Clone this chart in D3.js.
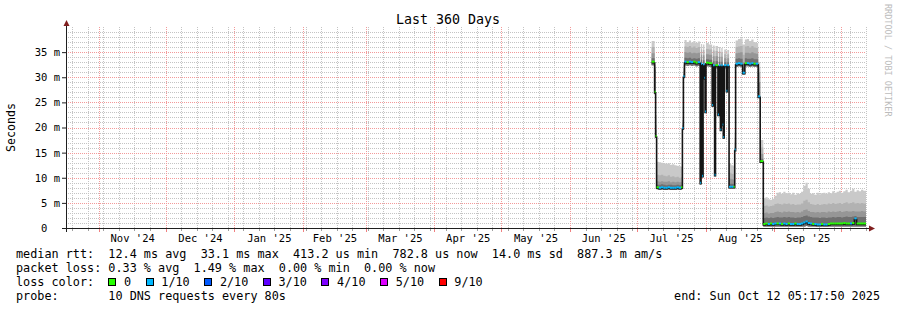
<!DOCTYPE html>
<html>
<head>
<meta charset="utf-8">
<script src="https://cdn.jsdelivr.net/npm/d3@7"></script>
<style>
  body { margin: 0; background: #fff; }
  svg { display: block; font-family: "DejaVu Sans Mono", monospace; }
  text { white-space: pre; }
</style>
</head>
<body>
<svg id="chart" width="897" height="310"></svg>
<script>
const title = "Last 360 Days";
const yLabel = "Seconds";
const endTime = new Date(Date.UTC(2025, 9, 12, 5, 17, 50));
const spanDays = 360;
const yMax = 40;
const yTicks = [0, 5, 10, 15, 20, 25, 30, 35];

// sample times, in days after 2025-07-07
const firstDay = Date.UTC(2025, 6, 7);
const day = [0.75, 2.1, 2.55, 3, 4, 5, 6, 7, 8, 9, 10, 11, 12, 13, 14, 14.6, 15.05,
  15.55, 16.5, 17.5, 18.5, 19.5, 20.5, 21.5,
  22.6, 23.0, 23.5, 23.9, 24.5, 24.8, 25.2, 26.5, 28.0, 28.4, 29.1, 29.5, 30.6, 31.0,
  31.7, 32.1, 32.7, 33.0, 33.4, 34.4, 34.8, 35.6, 36.6, 37.6, 38.15,
  38.55, 39.6, 40.6, 41.7, 42.7, 43.6, 44.6, 45.6, 46.6, 47.6, 48.7, 49.6,
  51, 52, 53, 54, 55, 56, 57, 58, 59, 60, 61, 62, 63, 64, 65, 66, 67, 68, 69, 70,
  71, 72, 73, 74, 75, 76, 77, 78, 79, 80, 81, 82, 83, 84, 85, 86, 87, 88, 89, 90,
  91, 92, 93, 94, 95, 96];

// median rtt, ms
const median = [33.0, 27.0, 18.2, 8.0, 7.9, 8.0, 7.9, 7.9, 8.0, 7.9, 7.9, 7.9, 8.0, 7.9, 8.0, 19.8, 30.1,
  33.0, 32.9, 33.0, 32.9, 33.0, 32.8, 32.9,
  8.9, 32.6, 10.3, 32.5, 29.8, 23.1, 32.8, 32.7, 24.4, 32.3, 10.5, 32.3, 22.5, 32.3,
  19.5, 32.3, 20.5, 18.0, 32.3, 27.2, 32.3, 8.1, 8.1, 8.1, 15.5,
  32.6, 32.7, 32.6, 30.8, 32.7, 32.7, 32.6, 32.7, 32.6, 32.6, 26.1, 13.2,
  0.7, 0.8, 0.7, 0.8, 0.7, 0.8, 0.8, 0.8, 0.7, 0.8, 0.7, 0.8, 0.7, 0.7, 0.8, 0.7, 0.7, 0.8, 1.0, 1.2,
  0.9, 0.8, 0.7, 0.7, 0.6, 0.6, 0.7, 0.6, 0.6, 0.7, 0.8, 0.8, 0.8, 0.8, 0.8, 0.8, 0.9, 0.8, 0.8, 0.8,
  0.9, 1.8, 0.8, 0.8, 0.8, 0.8];

// smoke: fastest ping and the tops of the four grey bands, ms
const pingLo = [32.4, 26.6, 18.0, 7.7, 7.6, 7.7, 7.6, 7.6, 7.7, 7.6, 7.6, 7.6, 7.7, 7.6, 7.7, 19.5, 29.8,
  32.4, 32.3, 32.4, 32.3, 32.4, 32.2, 32.3,
  8.7, 32.0, 10.1, 31.9, 29.5, 22.9, 32.2, 32.1, 24.2, 31.8, 10.3, 31.8, 22.3, 31.8,
  19.3, 31.8, 20.3, 17.8, 31.8, 27.0, 31.8, 7.9, 7.9, 7.9, 15.3,
  32.1, 32.2, 32.1, 30.6, 32.2, 32.2, 32.1, 32.2, 32.1, 32.1, 25.9, 13.0,
  0.3, 0.3, 0.3, 0.3, 0.3, 0.3, 0.3, 0.3, 0.3, 0.3, 0.3, 0.3, 0.3, 0.3, 0.3, 0.3, 0.3, 0.3, 0.3, 0.4,
  0.3, 0.3, 0.3, 0.3, 0.3, 0.3, 0.3, 0.3, 0.3, 0.3, 0.3, 0.3, 0.3, 0.3, 0.3, 0.3, 0.3, 0.3, 0.3, 0.3,
  0.3, 0.3, 0.3, 0.3, 0.3, 0.3];
const band1 = [33.8, 31.5, 18.6, 8.6, 8.6, 8.7, 8.6, 8.5, 8.6, 8.6, 8.5, 8.5, 8.6, 8.5, 8.5, 20.0, 30.6,
  33.9, 33.8, 33.9, 33.7, 33.8, 33.7, 33.8,
  9.2, 33.5, 10.6, 33.4, 30.5, 24.0, 33.6, 33.5, 25.0, 33.2, 11.0, 33.2, 23.0, 33.1,
  20.0, 33.1, 21.0, 18.6, 33.0, 28.0, 33.0, 8.8, 8.8, 8.7, 16.0,
  33.7, 33.8, 33.7, 32.0, 33.8, 33.7, 33.7, 33.8, 33.6, 33.6, 29.0, 13.8,
  2.0, 2.1, 2.0, 2.1, 2.0, 2.1, 2.2, 2.1, 2.1, 2.2, 2.1, 2.2, 2.1, 2.1, 2.0, 2.1, 2.1, 2.2, 2.4, 2.5,
  2.3, 2.2, 2.1, 2.1, 2.1, 2.0, 2.1, 2.1, 2.0, 2.1, 2.1, 2.2, 2.1, 2.2, 2.2, 2.1, 2.2, 2.3, 2.2, 2.2,
  2.3, 2.4, 2.2, 2.2, 2.2, 2.2];
const band2 = [34.8, 32.0, 19.5, 9.3, 9.2, 9.3, 9.2, 9.2, 9.3, 9.1, 9.2, 9.1, 9.2, 9.1, 9.1, 20.5, 31.2,
  35.0, 34.9, 35.0, 34.8, 34.9, 34.8, 34.9,
  9.8, 34.5, 11.0, 34.4, 31.3, 25.0, 34.6, 34.5, 26.0, 34.2, 12.0, 34.2, 24.0, 34.1,
  21.0, 34.1, 22.0, 19.5, 33.8, 29.5, 33.8, 9.8, 9.7, 9.6, 17.0,
  34.8, 34.9, 35.0, 33.0, 34.9, 34.9, 34.8, 35.0, 34.8, 34.7, 31.0, 14.8,
  3.0, 3.1, 2.9, 3.0, 3.0, 3.2, 3.3, 3.2, 3.1, 3.3, 3.2, 3.3, 3.2, 3.2, 3.1, 3.2, 3.1, 3.3, 3.6, 3.7,
  3.4, 3.2, 3.2, 3.1, 3.2, 3.1, 3.2, 3.2, 3.1, 3.3, 3.2, 3.3, 3.2, 3.3, 3.4, 3.2, 3.3, 3.4, 3.3, 3.3,
  3.4, 3.3, 3.3, 3.3, 3.4, 3.3];
const band3 = [36.0, 32.5, 20.5, 10.6, 10.5, 10.6, 10.4, 10.3, 10.5, 10.2, 10.3, 10.1, 10.2, 10.0, 10.1, 21.0, 31.8,
  36.1, 36.0, 36.2, 35.9, 36.1, 35.8, 36.0,
  10.5, 35.5, 11.5, 35.4, 32.0, 26.5, 35.6, 35.5, 28.0, 35.3, 13.5, 35.2, 26.0, 35.1,
  23.0, 35.0, 24.0, 21.5, 34.6, 30.5, 34.6, 11.0, 10.8, 10.7, 18.0,
  36.0, 36.1, 36.2, 34.5, 36.1, 36.2, 35.9, 36.2, 35.9, 35.8, 32.0, 16.0,
  4.4, 4.5, 4.3, 4.4, 4.5, 4.8, 4.9, 4.8, 4.7, 4.9, 4.8, 4.9, 4.7, 4.8, 4.6, 4.7, 4.7, 4.9, 5.4, 5.6,
  5.1, 4.8, 4.7, 4.6, 4.8, 4.6, 4.7, 4.8, 4.7, 4.9, 4.8, 5.0, 4.8, 4.9, 5.0, 4.8, 5.0, 5.1, 4.9, 5.0,
  5.1, 4.9, 5.0, 4.9, 5.0, 4.9];
const pingHi = [37.2, 33.0, 22.5, 13.2, 13.1, 13.0, 12.9, 12.8, 12.9, 12.6, 12.7, 12.5, 12.4, 12.3, 12.2, 21.5, 32.5,
  37.4, 37.0, 37.3, 36.9, 37.2, 36.8, 37.1,
  11.5, 36.6, 12.0, 36.5, 33.0, 29.0, 36.8, 36.5, 31.0, 36.3, 16.0, 36.2, 29.0, 36.0,
  26.0, 35.8, 27.5, 24.7, 35.5, 32.5, 35.4, 12.8, 12.5, 12.3, 19.0,
  37.3, 37.6, 37.7, 36.5, 37.5, 37.6, 37.2, 37.5, 37.0, 36.8, 33.0, 17.5,
  5.9, 6.1, 5.7, 5.6, 5.8, 6.4, 7.0, 7.1, 6.8, 7.2, 6.9, 7.0, 6.7, 7.0, 6.6, 6.9, 6.8, 7.2, 8.4, 9.0,
  7.8, 6.8, 6.9, 6.6, 7.0, 6.7, 6.9, 7.0, 6.8, 7.1, 6.9, 7.3, 7.0, 7.2, 7.4, 7.0, 7.3, 7.6, 7.1, 7.4,
  7.8, 7.2, 7.5, 7.3, 7.6, 7.4];

// lost pings out of 10
const loss = [0, 0, 0, 0, 1, 1, 1, 1, 1, 1, 1, 1, 1, 1, 0, 1, 1,
  1, 0, 1, 1, 0, 0, 1,
  1, 1, 1, 1, 1, 1, 0, 0, 1, 1, 1, 0, 1, 1,
  1, 1, 1, 1, 1, 1, 1, 1, 1, 0, 1,
  1, 1, 1, 1, 0, 1, 1, 1, 0, 1, 1, 0,
  0, 0, 1, 0, 1, 1, 0, 1, 0, 1, 1, 0, 1, 1, 0, 1, 1, 1, 1, 1,
  1, 1, 0, 1, 1, 1, 0, 1, 1, 0, 0, 0, 0, 0, 0, 0, 0, 0, 0, 1,
  0, 1, 0, 0, 0, 0];

const lossColors = ["#26ff00", "#00b8ff", "#0059ff", "#5e00ff", "#7e00ff", "#dd00ff", "#ff0000"];
const lossLabels = ["0", "1/10", "2/10", "3/10", "4/10", "5/10", "9/10"];
const statLines = [
  "median rtt:  12.4 ms avg  33.1 ms max  413.2 us min  782.8 us now  14.0 ms sd  887.3 m am/s",
  "packet loss: 0.33 % avg  1.49 % max  0.00 % min  0.00 % now",
  "loss color:",
  "probe:       10 DNS requests every 80s"
];
const endText = "end: Sun Oct 12 05:17:50 2025";
const watermark = "RRDTOOL / TOBI OETIKER";

const svg = d3.select("#chart");
const startTime = new Date(endTime.getTime() - spanDays * 864e5);
const x = d3.scaleTime().domain([startTime, endTime]).range([66, 866]);
const y = d3.scaleLinear().domain([0, yMax]).range([228, 27]);
const plotTop = 27, plotBottom = 228;

const samples = day.map((d, i) => ({
  t: new Date(firstDay + d * 864e5),
  med: median[i], lo: pingLo[i], b1: band1[i], b2: band2[i], b3: band3[i], hi: pingHi[i],
  loss: loss[i]
}));
samples.forEach((s, i) => { s.t1 = i + 1 < samples.length ? samples[i + 1].t : endTime; });
const stepped = samples.concat([Object.assign({}, samples[samples.length - 1], { t: endTime })]);

// grid, under the data
const grid = svg.append("g").attr("stroke-dasharray", "1,1").attr("stroke-width", 1);
const hMinor = d3.range(1, yMax).filter(v => v % 5);
const hMajor = yTicks.filter(v => v > 0);
const weeks = d3.utcSunday.range(startTime, endTime);
const months = d3.utcMonth.range(startTime, endTime);

grid.selectAll(".hmin").data(hMinor).join("line")
  .attr("x1", 66).attr("x2", 866)
  .attr("y1", d => Math.round(y(d)) + 0.5).attr("y2", d => Math.round(y(d)) + 0.5)
  .attr("stroke", "#c4c4c4");
grid.selectAll(".vmin").data(weeks).join("line")
  .attr("x1", d => Math.round(x(d)) + 0.5).attr("x2", d => Math.round(x(d)) + 0.5)
  .attr("y1", plotTop).attr("y2", plotBottom)
  .attr("stroke", "#c4c4c4");
grid.selectAll(".hmaj").data(hMajor).join("line")
  .attr("x1", 66).attr("x2", 866)
  .attr("y1", d => Math.round(y(d)) + 0.5).attr("y2", d => Math.round(y(d)) + 0.5)
  .attr("stroke", "#f39a9a");
grid.selectAll(".vmaj").data(months).join("line")
  .attr("x1", d => Math.round(x(d)) + 0.5).attr("x2", d => Math.round(x(d)) + 0.5)
  .attr("y1", plotTop).attr("y2", plotBottom)
  .attr("stroke", "#f39a9a");

// smoke
const bands = [["hi", "#c9c9c9"], ["b3", "#b2b2b2"], ["b2", "#969696"], ["b1", "#707070"]];
bands.forEach(([k, c]) => {
  svg.append("path").datum(stepped)
    .attr("fill", c)
    .attr("d", d3.area().curve(d3.curveStepAfter)
      .x(d => x(d.t)).y0(d => y(d.lo)).y1(d => y(d[k])));
});

// median
svg.append("path").datum(stepped)
  .attr("fill", "none")
  .attr("stroke", "#151515")
  .attr("stroke-width", 1.6)
  .attr("d", d3.line().curve(d3.curveStepAfter).x(d => x(d.t)).y(d => y(d.med) + 0.5));

svg.append("g").selectAll("line").data(samples).join("line")
  .attr("x1", d => x(d.t)).attr("x2", d => x(d.t1))
  .attr("y1", d => y(d.med) - 0.5).attr("y2", d => y(d.med) - 0.5)
  .attr("stroke", d => lossColors[d.loss <= 5 ? d.loss : 6])
  .attr("stroke-width", 2);

// small ticks under the x axis
svg.append("g").selectAll("line").data(weeks).join("line")
  .attr("x1", d => Math.round(x(d)) + 0.5).attr("x2", d => Math.round(x(d)) + 0.5)
  .attr("y1", 229).attr("y2", 231).attr("stroke", "#a0a0a0");
svg.append("g").selectAll("line").data(months).join("line")
  .attr("x1", d => Math.round(x(d)) + 0.5).attr("x2", d => Math.round(x(d)) + 0.5)
  .attr("y1", 229).attr("y2", 232).attr("stroke", "#f08080");

// y axis labels
const yAxis = svg.append("g").attr("transform", "translate(66,0)")
  .call(d3.axisLeft(y).tickValues(yTicks).tickSize(4).tickPadding(2)
    .tickFormat(v => v ? v + " m" : "0  "));
yAxis.attr("color", "#000");
yAxis.select(".domain").remove();
yAxis.selectAll("line").attr("stroke", "#1f1f1f");
yAxis.selectAll("text").attr("font-family", "DejaVu Sans Mono").attr("font-size", 10.5)
  .attr("fill", "#000").attr("xml:space", "preserve");

// x axis labels at mid-month
const mids = d3.utcMonth.range(d3.utcMonth.floor(startTime), endTime)
  .map(m => new Date((m.getTime() + d3.utcMonth.offset(m, 1).getTime()) / 2))
  .filter(d => d >= startTime && d <= endTime);
const xAxis = svg.append("g").attr("transform", "translate(0,228)")
  .call(d3.axisBottom(x).tickValues(mids).tickSize(0).tickPadding(6.5)
    .tickFormat(d3.utcFormat("%b '%y")));
xAxis.attr("color", "#000");
xAxis.select(".domain").remove();
xAxis.selectAll("text").attr("font-family", "DejaVu Sans Mono").attr("font-size", 10.5).attr("fill", "#000");

// axes and arrows
svg.append("line").attr("x1", 66.5).attr("x2", 66.5).attr("y1", 24).attr("y2", 232)
  .attr("stroke", "#1f1f1f");
svg.append("line").attr("x1", 62).attr("x2", 870).attr("y1", 228.5).attr("y2", 228.5)
  .attr("stroke", "#1f1f1f");
svg.append("path").attr("d", "M63.5,26L69.5,26L66.5,20Z").attr("fill", "#801f1f");
svg.append("path").attr("d", "M869,225.5L869,231.5L875,228.5Z").attr("fill", "#801f1f");

// title and labels
svg.append("text").attr("x", 448).attr("y", 24).attr("text-anchor", "middle")
  .attr("font-size", 13.3).text(title);
svg.append("text").attr("transform", "translate(15,127.5) rotate(-90)")
  .attr("text-anchor", "middle").attr("font-size", 11.6).text(yLabel);
svg.append("text").attr("transform", "translate(884.5,4) rotate(90)")
  .attr("font-size", 8.5).attr("fill", "#bcbcbc").text(watermark);

// legend
const cw = 7.1;
svg.append("g").selectAll("text").data(statLines).join("text")
  .attr("x", 16).attr("y", (d, i) => 258 + i * 14)
  .attr("font-size", 11.8).attr("xml:space", "preserve").text(d => d);

let bx = 16 + 13 * cw;
const lg = svg.append("g");
lossLabels.forEach((lab, i) => {
  lg.append("rect").attr("x", Math.round(bx) + 0.5).attr("y", 278.5).attr("width", 7).attr("height", 7)
    .attr("fill", lossColors[i]).attr("stroke", "#000");
  const tx = bx + 15.7;
  lg.append("text").attr("x", tx).attr("y", 286).attr("font-size", 11.8).text(lab);
  bx = tx + lab.length * cw + 14.5;
});

svg.append("text").attr("x", 880).attr("y", 300).attr("text-anchor", "end")
  .attr("font-size", 11.8).attr("xml:space", "preserve").text(endText);
</script>
</body>
</html>
